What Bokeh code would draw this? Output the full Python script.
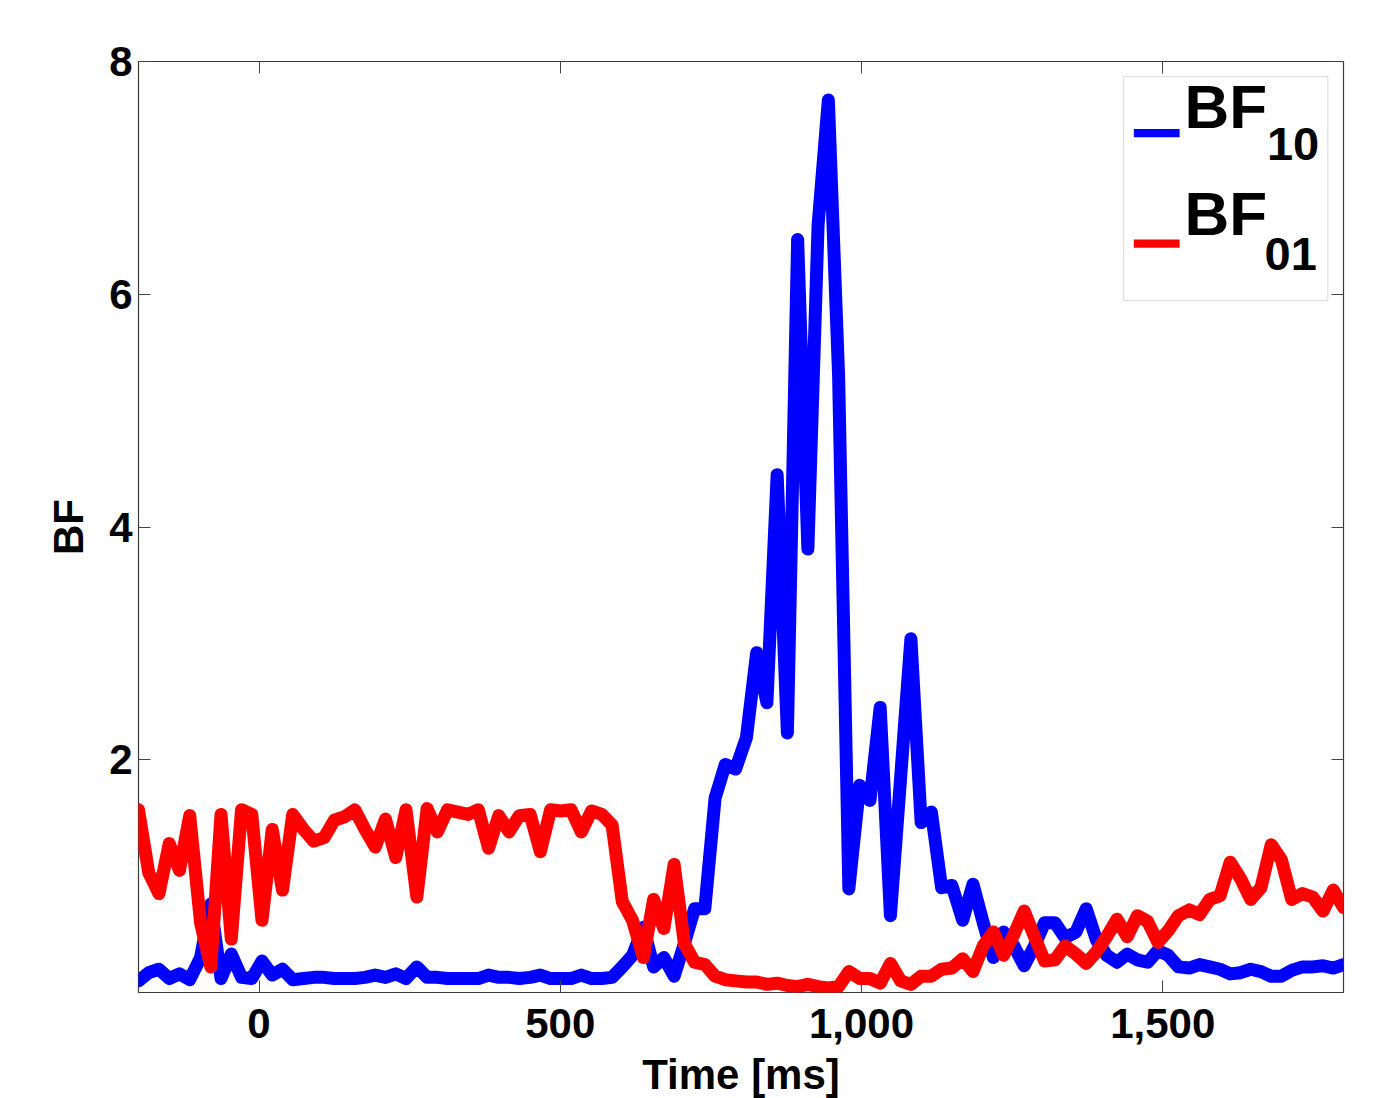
from bokeh.plotting import figure
from bokeh.models import LinearAxis, FixedTicker, Range1d, Label, BoxAnnotation
from bokeh.embed import file_html
from bokeh.resources import INLINE

# ---- data ----
time_ms = [-200, -183, -166, -149, -132, -115, -97, -80, -63, -46, -29, -12,
           5, 22, 39, 56, 74, 91, 108, 125, 142, 159, 176, 193,
           210, 227, 244, 262, 279, 296, 313, 330, 347, 364, 381, 398,
           415, 432, 450, 467, 484, 501, 518, 535, 552, 569, 586, 603,
           620, 638, 655, 672, 689, 706, 723, 740, 757, 774, 791, 809,
           826, 843, 860, 877, 894, 911, 928, 945, 962, 979, 997, 1014,
           1031, 1048, 1065, 1082, 1099, 1116, 1133, 1150, 1168, 1185, 1202, 1219,
           1236, 1253, 1270, 1287, 1304, 1321, 1338, 1356, 1373, 1390, 1407, 1424,
           1441, 1458, 1475, 1492, 1509, 1526, 1544, 1561, 1578, 1595, 1612, 1629,
           1646, 1663, 1680, 1697, 1714, 1732, 1749, 1766, 1783, 1800]

bf10 = [0.10, 0.17, 0.20, 0.12, 0.16, 0.11, 0.30, 0.76, 0.12, 0.33, 0.13, 0.12,
        0.27, 0.15, 0.20, 0.11, 0.12, 0.13, 0.13, 0.12, 0.12, 0.12, 0.13, 0.15,
        0.13, 0.16, 0.12, 0.22, 0.13, 0.13, 0.12, 0.12, 0.12, 0.12, 0.15, 0.13,
        0.13, 0.12, 0.13, 0.15, 0.12, 0.12, 0.12, 0.15, 0.12, 0.12, 0.13, 0.22,
        0.32, 0.56, 0.22, 0.30, 0.14, 0.42, 0.72, 0.72, 1.67, 1.96, 1.92, 2.19,
        2.92, 2.49, 4.45, 2.23, 6.47, 3.81, 6.60, 7.67, 5.30, 0.89, 1.78, 1.65,
        2.45, 0.66, 1.85, 3.04, 1.46, 1.55, 0.90, 0.92, 0.62, 0.93, 0.60, 0.30,
        0.52, 0.40, 0.23, 0.40, 0.60, 0.60, 0.47, 0.52, 0.72, 0.45, 0.32, 0.26,
        0.33, 0.28, 0.26, 0.36, 0.32, 0.22, 0.21, 0.24, 0.22, 0.20, 0.16, 0.17,
        0.20, 0.18, 0.14, 0.14, 0.19, 0.22, 0.22, 0.23, 0.21, 0.24]

bf01 = [1.57, 1.03, 0.85, 1.28, 1.05, 1.52, 0.60, 0.22, 1.53, 0.46, 1.57, 1.53,
        0.62, 1.40, 0.88, 1.53, 1.40, 1.30, 1.33, 1.48, 1.51, 1.57, 1.40, 1.25,
        1.49, 1.16, 1.57, 0.82, 1.58, 1.38, 1.57, 1.55, 1.53, 1.57, 1.24, 1.52,
        1.38, 1.52, 1.53, 1.21, 1.57, 1.56, 1.57, 1.38, 1.56, 1.53, 1.44, 0.78,
        0.62, 0.30, 0.80, 0.55, 1.10, 0.42, 0.26, 0.24, 0.14, 0.11, 0.10, 0.09,
        0.09, 0.07, 0.08, 0.06, 0.05, 0.07, 0.05, 0.04, 0.05, 0.18, 0.12, 0.12,
        0.08, 0.25, 0.10, 0.07, 0.14, 0.14, 0.20, 0.21, 0.29, 0.18, 0.40, 0.52,
        0.32, 0.50, 0.70, 0.48, 0.27, 0.28, 0.40, 0.33, 0.25, 0.35, 0.48, 0.63,
        0.48, 0.66, 0.61, 0.43, 0.53, 0.66, 0.71, 0.67, 0.80, 0.83, 1.12, 0.98,
        0.80, 0.90, 1.27, 1.14, 0.80, 0.85, 0.82, 0.70, 0.88, 0.73]

x_ticks = [0, 500, 1000, 1500]
x_tick_labels = ["0", "500", "1,000", "1,500"]
y_ticks = [2, 4, 6, 8]
y_tick_labels = ["2", "4", "6", "8"]

FONT = "Liberation Sans"

p = figure(frame_width=1205, frame_height=931,
           min_border_left=138, min_border_right=36,
           min_border_top=61, min_border_bottom=106,
           x_range=Range1d(-200, 1800), y_range=Range1d(0, 8),
           output_backend="svg", toolbar_location=None,
           x_axis_label="Time [ms]", y_axis_label="BF")
p.background_fill_color = "white"
p.border_fill_color = "white"
p.outline_line_color = "#3a3a3a"
p.outline_line_width = 1.2
p.grid.visible = False

p.line(time_ms, bf10, line_width=13, color="#0000FF", line_join="round", line_cap="round")
p.line(time_ms, bf01, line_width=13, color="#FF0000", line_join="round", line_cap="round")


def style_axis(ax, ticks, labels, show):
    ax.ticker = FixedTicker(ticks=ticks)
    ax.major_label_overrides = {t: (l if show else "") for t, l in zip(ticks, labels)}
    ax.minor_tick_line_color = None
    ax.major_tick_in = 12
    ax.major_tick_out = 0
    ax.major_tick_line_color = "#444444"
    ax.major_tick_line_width = 1
    ax.axis_line_color = None
    ax.major_label_text_font = FONT
    ax.major_label_text_font_style = "bold"
    ax.major_label_text_color = "black"
    ax.major_label_text_font_size = "42px" if show else "1px"
    ax.axis_label_text_font = FONT
    ax.axis_label_text_font_style = "bold"
    ax.axis_label_text_font_size = "42px"
    ax.axis_label_text_color = "black"


xa = p.xaxis[0]
style_axis(xa, x_ticks, x_tick_labels, True)
xa.major_label_standoff = 16
xa.axis_label_standoff = 10

ya = p.yaxis[0]
style_axis(ya, y_ticks, y_tick_labels, True)
ya.major_label_standoff = 6
ya.axis_label_standoff = 14

top = LinearAxis()
style_axis(top, x_ticks, x_tick_labels, False)
p.add_layout(top, "above")
right = LinearAxis()
style_axis(right, y_ticks, y_tick_labels, False)
p.add_layout(right, "right")

# ---- legend (drawn by hand to allow subscripts) ----
p.add_layout(BoxAnnotation(left=1435, right=1774, bottom=5.945, top=7.87,
                           fill_color="white", fill_alpha=1.0,
                           line_color="#808080", line_width=1))
p.add_layout(BoxAnnotation(left=1452, right=1528, bottom=7.35, top=7.42,
                           fill_color="#0000FF", fill_alpha=1.0, line_color=None))
p.add_layout(BoxAnnotation(left=1452, right=1528, bottom=6.40, top=6.47,
                           fill_color="#FF0000", fill_alpha=1.0, line_color=None))

for (xx, yy, txt, size) in [(1536, 7.61, "BF", "62px"), (1673, 7.29, "10", "47px"),
                            (1536, 6.69, "BF", "62px"), (1669, 6.35, "01", "47px")]:
    p.add_layout(Label(x=xx, y=yy, text=txt, text_font=FONT, text_font_style="bold",
                       text_font_size=size, text_color="black",
                       text_baseline="alphabetic", text_align="left"))

open("out.html", "w").write(file_html(p, INLINE))
